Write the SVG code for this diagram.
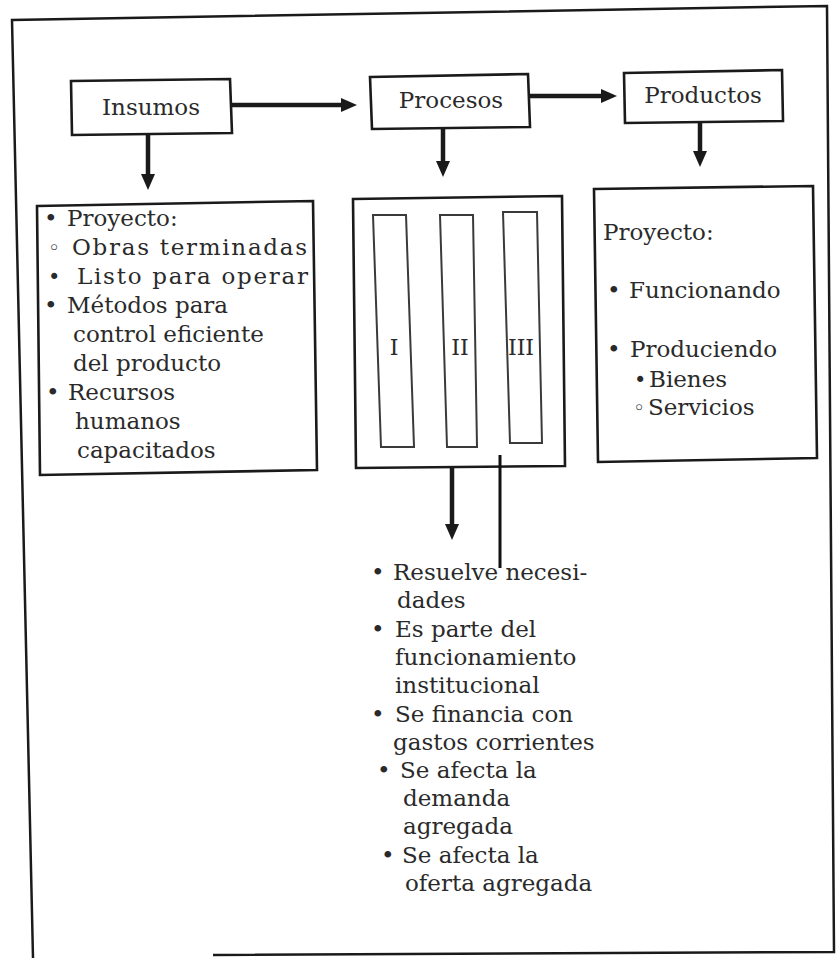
<svg xmlns="http://www.w3.org/2000/svg" width="837" height="960" viewBox="0 0 837 960">
  <style>
    .frame { fill: none; stroke: #1a1a1a; stroke-width: 2.5; stroke-linejoin: miter; }
    .box { fill: #ffffff; stroke: #1a1a1a; stroke-width: 2.6; }
    .bar { fill: #ffffff; stroke: #3a3a3a; stroke-width: 2; }
    .title { font-family: "DejaVu Serif", "Liberation Serif", serif; font-size: 23px; fill: #2a2a2a; text-anchor: middle; }
    .txt { font-family: "DejaVu Serif", "Liberation Serif", serif; font-size: 23px; fill: #2a2a2a; }
    .bul { font-family: "DejaVu Serif", "DejaVu Sans", serif; font-size: 23px; fill: #2a2a2a; }
    .sub { font-family: "DejaVu Sans", serif; font-size: 21px; fill: #2a2a2a; }
    .roman { font-family: "DejaVu Serif", "Liberation Serif", serif; font-size: 22px; fill: #2a2a2a; text-anchor: middle; }
    .arrow { fill: none; stroke: #1a1a1a; stroke-width: 4.5; marker-end: url(#head); }
    .rule { fill: none; stroke: #111111; stroke-width: 3; }
  </style>
  <defs>
    <marker id="head" markerUnits="userSpaceOnUse" markerWidth="16" markerHeight="14" refX="4" refY="7" orient="auto">
      <path d="M0,0 L16,7 L0,14 z" fill="#1a1a1a"/>
    </marker>
  </defs>

  <rect width="837" height="960" fill="#ffffff"/>

  <!-- outer frame -->
  <g id="frame">
    <path class="frame" d="M33,958 L12,20 L827,6 L834,952 L213,955"/>
  </g>

  <!-- top row: Insumos, Procesos, Productos -->
  <g id="insumos">
    <polygon class="box" points="71,81 230,79 232,133 72,135"/>
    <text class="title" x="151" y="115">Insumos</text>
  </g>
  <g id="procesos">
    <polygon class="box" points="370,77 528,74 530,127 372,129"/>
    <text class="title" x="451" y="108">Procesos</text>
  </g>
  <g id="productos">
    <polygon class="box" points="624,73 782,70 783,121 625,123"/>
    <text class="title" x="703" y="103">Productos</text>
  </g>

  <!-- list under Insumos -->
  <g id="insumos-detalle">
    <polygon class="box" points="37,206 313,201 317,470 40,475"/>
    <text class="bul" x="44" y="226">•</text>
    <text class="txt" x="67" y="226">Proyecto:</text>
    <text class="sub" x="48" y="255">◦</text>
    <text class="txt" x="72" y="255" textLength="235" lengthAdjust="spacing">Obras terminadas</text>
    <text class="sub" x="48" y="284">•</text>
    <text class="txt" x="77" y="284" textLength="231" lengthAdjust="spacing">Listo para operar</text>
    <text class="bul" x="44" y="313">•</text>
    <text class="txt" x="67" y="313">Métodos para</text>
    <text class="txt" x="73" y="342">control eficiente</text>
    <text class="txt" x="73" y="371">del producto</text>
    <text class="bul" x="46" y="400">•</text>
    <text class="txt" x="68" y="400">Recursos</text>
    <text class="txt" x="75" y="429">humanos</text>
    <text class="txt" x="77" y="458">capacitados</text>
  </g>

  <!-- stages under Procesos -->
  <g id="procesos-etapas">
    <polygon class="box" points="353,199 562,196 565,466 356,468"/>
    <polygon class="bar" points="373,215 406,215 414,447 381,447"/>
    <polygon class="bar" points="440,215 473,215 477,447 447,447"/>
    <polygon class="bar" points="503,212 537,212 542,443 510,443"/>
    <text class="roman" x="394" y="355">I</text>
    <text class="roman" x="460" y="355">II</text>
    <text class="roman" x="521" y="355">III</text>
  </g>

  <!-- list under Productos -->
  <g id="productos-detalle">
    <polygon class="box" points="594,189 813,186 817,458 598,462"/>
    <text class="txt" x="603" y="240">Proyecto:</text>
    <text class="bul" x="607" y="298">•</text>
    <text class="txt" x="629" y="298">Funcionando</text>
    <text class="bul" x="607" y="357">•</text>
    <text class="txt" x="630" y="357">Produciendo</text>
    <text class="sub" x="634" y="387">•</text>
    <text class="txt" x="649" y="387">Bienes</text>
    <text class="sub" x="633" y="415">◦</text>
    <text class="txt" x="648" y="415">Servicios</text>
  </g>

  <!-- characteristics below the stages -->
  <g id="caracteristicas">
    <text class="bul" x="371" y="580">•</text>
    <text class="txt" x="393" y="580">Resuelve necesi-</text>
    <text class="txt" x="397" y="608">dades</text>
    <text class="bul" x="371" y="637">•</text>
    <text class="txt" x="395" y="637">Es parte del</text>
    <text class="txt" x="395" y="665">funcionamiento</text>
    <text class="txt" x="395" y="693">institucional</text>
    <text class="bul" x="371" y="722">•</text>
    <text class="txt" x="395" y="722">Se financia con</text>
    <text class="txt" x="393" y="750">gastos corrientes</text>
    <text class="bul" x="377" y="778">•</text>
    <text class="txt" x="400" y="778">Se afecta la</text>
    <text class="txt" x="403" y="806">demanda</text>
    <text class="txt" x="403" y="834">agregada</text>
    <text class="bul" x="381" y="863">•</text>
    <text class="txt" x="402" y="863">Se afecta la</text>
    <text class="txt" x="405" y="891">oferta agregada</text>
  </g>

  <!-- connectors -->
  <g id="connectors">
    <path class="arrow" d="M232,105 L345,105"/>
    <path class="arrow" d="M530,96 L605,96"/>
    <path class="arrow" d="M148,135 L148,178"/>
    <path class="arrow" d="M443,128 L443,165"/>
    <path class="arrow" d="M700,122 L700,155"/>
    <path class="arrow" d="M452,467 L452,528"/>
    <path class="rule" d="M500,455 L500,568"/>
  </g>
</svg>
